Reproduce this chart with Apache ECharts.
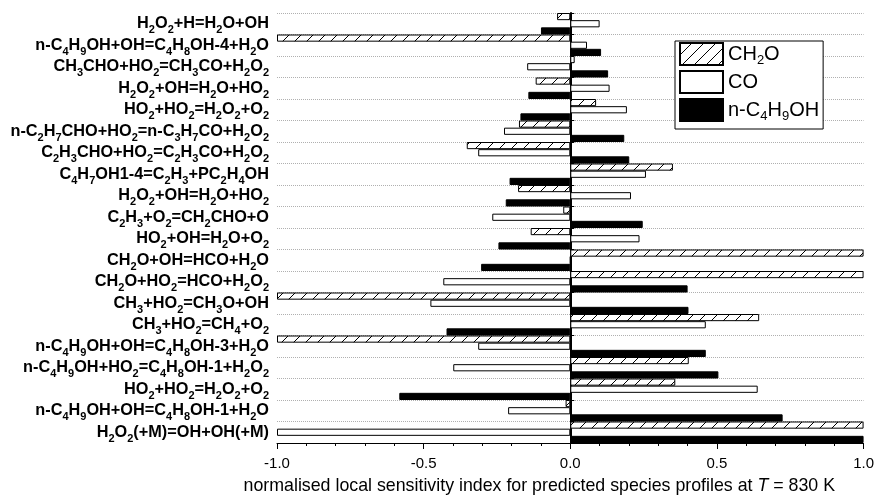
<!DOCTYPE html>
<html><head><meta charset="utf-8">
<script src="https://cdn.jsdelivr.net/npm/echarts@6/dist/echarts.min.js"></script>
<style>html,body{margin:0;padding:0;background:#fff}#c{width:877px;height:500px}</style>
</head><body><div id="c"></div>
<script>
const categories = [
 "H_2O_2+H=H_2O+OH",
 "n-C_4H_9OH+OH=C_4H_8OH-4+H_2O",
 "CH_3CHO+HO_2=CH_3CO+H_2O_2",
 "H_2O_2+OH=H_2O+HO_2",
 "HO_2+HO_2=H_2O_2+O_2",
 "n-C_2H_7CHO+HO_2=n-C_3H_7CO+H_2O_2",
 "C_2H_3CHO+HO_2=C_2H_3CO+H_2O_2",
 "C_4H_7OH1-4=C_2H_3+PC_2H_4OH",
 "H_2O_2+OH=H_2O+HO_2",
 "C_2H_3+O_2=CH_2CHO+O",
 "HO_2+OH=H_2O+O_2",
 "CH_2O+OH=HCO+H_2O",
 "CH_2O+HO_2=HCO+H_2O_2",
 "CH_3+HO_2=CH_3O+OH",
 "CH_3+HO_2=CH_4+O_2",
 "n-C_4H_9OH+OH=C_4H_8OH-3+H_2O",
 "n-C_4H_9OH+HO_2=C_4H_8OH-1+H_2O_2",
 "HO_2+HO_2=H_2O_2+O_2",
 "n-C_4H_9OH+OH=C_4H_8OH-1+H_2O",
 "H_2O_2(+M)=OH+OH(+M)"
];
const seriesNames = ["CH_2O", "CO", "n-C_4H_9OH"];
const ch2o = [-0.045, -1, 0.015, -0.118, 0.088, -0.175, -0.353, 0.35, -0.178, -0.024, -0.135, 1, 1, -1, 0.644, -1, 0.404, 0.358, -0.016, 1];
const co   = [0.10, 0.057, -0.147, 0.134, 0.193, -0.226, -0.314, 0.258, 0.207, -0.266, 0.236, 0, -0.433, -0.477, 0.462, -0.314, -0.399, 0.639, -0.212, -1];
const nbut = [-0.10, 0.105, 0.129, -0.143, -0.17, 0.184, 0.201, -0.207, -0.22, 0.247, -0.245, -0.304, 0.40, 0.403, -0.422, 0.462, 0.505, -0.583, 0.724, 1];
const xTicks = [-1.0, -0.5, 0.0, 0.5, 1.0];

function toRich(s) {
  return s.replace(/_(\d)/g, '{s|$1}');
}
function hatch() {
  const c = document.createElement('canvas');
  c.width = 12; c.height = 12;
  const g = c.getContext('2d');
  g.fillStyle = '#fff'; g.fillRect(0, 0, 12, 12);
  g.strokeStyle = '#000'; g.lineWidth = 1;
  g.beginPath();
  g.moveTo(0, 12); g.lineTo(12, 0);
  g.moveTo(-2, 2); g.lineTo(2, -2);
  g.moveTo(10, 14); g.lineTo(14, 10);
  g.stroke();
  return c;
}
const FF = '"Liberation Sans", Arial, Helvetica, sans-serif';
const idx = categories.map((c, i) => String(i));
const chart = echarts.init(document.getElementById('c'), null, {renderer: 'canvas'});
const pattern = {image: hatch(), repeat: 'repeat'};
chart.setOption({
  animation: false,
  backgroundColor: '#fff',
  grid: {left: 277, right: 12, top: 13, bottom: 52, containLabel: false},
  legend: {
    orient: 'vertical', left: 675, top: 41,
    itemWidth: 43, itemHeight: 22, itemGap: 2,
    padding: [0, 4, 6, 4],
    borderColor: '#000', borderWidth: 1, backgroundColor: '#fff',
    icon: 'rect',
    data: seriesNames,
    formatter: n => toRich(n),
    textStyle: {
      fontFamily: FF, fontSize: 20, color: '#000', lineHeight: 26, padding: [0, 0, 0, 0],
      rich: {s: {fontFamily: FF, fontSize: 13, lineHeight: 10, verticalAlign: 'bottom', color: '#000'}}
    }
  },
  xAxis: {
    type: 'value', min: -1, max: 1, interval: 0.5, position: 'bottom',
    axisLine: {show: true, onZero: false, lineStyle: {color: '#000', width: 1}},
    axisTick: {show: true, length: 6, lineStyle: {color: '#000'}},
    minorTick: {show: true, splitNumber: 5, length: 3, lineStyle: {color: '#000'}},
    splitLine: {show: false},
    axisLabel: {formatter: v => xTicks.includes(v) ? v.toFixed(1) : '', fontFamily: FF, fontSize: 15, color: '#000', margin: 13},
    name: 'normalised local sensitivity index for predicted species profiles at {i|T} = 830 K',
    nameLocation: 'middle', nameGap: 34,
    nameTextStyle: {fontFamily: FF, fontSize: 17.8, color: '#000', padding: [0, 62, 0, 0],
      rich: {i: {fontFamily: FF, fontSize: 17.8, fontStyle: 'italic', color: '#000'}}}
  },
  yAxis: [{
    type: 'category', data: idx, inverse: true, position: 'left',
    axisLine: {show: false, onZero: false},
    axisTick: {show: false},
    splitLine: {show: true, lineStyle: {color: '#b0b0b0', type: 'dotted', width: 1}},
    axisLabel: {
      interval: 0, margin: 8,
      formatter: (v, i) => toRich(categories[+v]),
      fontFamily: FF, fontSize: 16.3, fontWeight: 'bold', color: '#000', lineHeight: 24,
      rich: {s: {fontFamily: FF, fontSize: 11, fontWeight: 'bold', lineHeight: 10, verticalAlign: 'bottom', color: '#000'}}
    }
  }, {
    type: 'category', data: idx, inverse: true, position: 'left',
    axisLine: {show: true, onZero: true, lineStyle: {color: '#000', width: 2}},
    axisTick: {show: true, inside: true, length: 4, lineStyle: {color: '#000', width: 1}},
    axisLabel: {show: false},
    splitLine: {show: false}
  }],
  series: [
    {name: seriesNames[0], type: 'bar', data: ch2o, yAxisIndex: 0, barGap: '0%', barCategoryGap: '0%',
     itemStyle: {color: pattern, borderColor: '#000', borderWidth: 1}},
    {name: seriesNames[1], type: 'bar', data: co, yAxisIndex: 0, barGap: '0%', barCategoryGap: '0%',
     itemStyle: {color: '#fff', borderColor: '#000', borderWidth: 1}},
    {name: seriesNames[2], type: 'bar', data: nbut, yAxisIndex: 0, barGap: '0%', barCategoryGap: '0%',
     itemStyle: {color: '#000', borderColor: '#000', borderWidth: 1}}
  ]
});
</script></body></html>
